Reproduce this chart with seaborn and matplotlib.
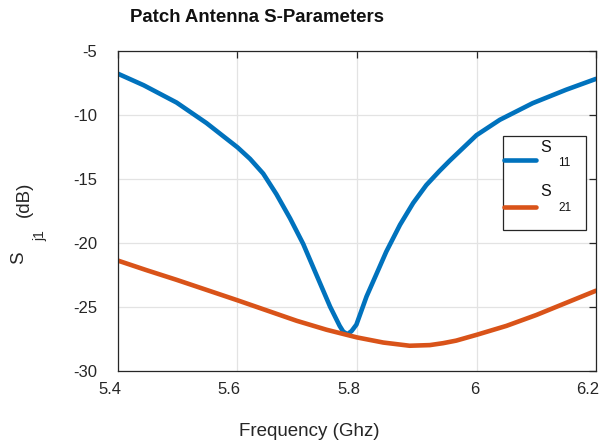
import matplotlib
matplotlib.use("Agg")
import matplotlib.pyplot as plt
import matplotlib.transforms as mtransforms
import seaborn as sns
import pandas as pd

# values
s11_freq = [5.400, 5.443, 5.498, 5.548, 5.600, 5.621, 5.643, 5.665, 5.688, 5.710,
            5.732, 5.755, 5.771, 5.777, 5.784, 5.791, 5.799, 5.816, 5.833, 5.849,
            5.872, 5.894, 5.916, 5.938, 5.955, 6.000, 6.039, 6.094, 6.150, 6.200]
s11_db = [-6.8, -7.7, -9.05, -10.65, -12.55, -13.45, -14.6, -16.2, -18.1, -20.1,
          -22.5, -25.0, -26.5, -26.95, -27.15, -26.9, -26.4, -24.2, -22.4, -20.7,
          -18.6, -16.9, -15.5, -14.4, -13.6, -11.6, -10.4, -9.1, -8.05, -7.2]

s21_freq = [5.400, 5.448, 5.498, 5.600, 5.699, 5.749, 5.800, 5.844, 5.888, 5.922,
            5.944, 5.966, 6.000, 6.050, 6.100, 6.150, 6.200]
s21_db = [-21.4, -22.15, -22.9, -24.5, -26.1, -26.8, -27.4, -27.8, -28.05, -28.0,
          -27.85, -27.65, -27.2, -26.5, -25.65, -24.7, -23.75]

series_names = ["S11", "S21"]
series_colors = ["#0072BD", "#D95319"]
x_ticks = [5.4, 5.6, 5.8, 6.0, 6.2]
x_ticklabels = ["5.4", "5.6", "5.8", "6", "6.2"]
y_ticks = [-30, -25, -20, -15, -10, -5]

df = pd.concat([
    pd.DataFrame({"freq": s11_freq, "db": s11_db, "param": series_names[0]}),
    pd.DataFrame({"freq": s21_freq, "db": s21_db, "param": series_names[1]}),
])

sns.set_theme(style="whitegrid")
plt.rcParams["font.family"] = ["Liberation Sans", "DejaVu Sans"]
plt.rcParams["axes.unicode_minus"] = False

W, H = 600, 443
fig = plt.figure(figsize=(6, 4.43), dpi=100)
ax = fig.add_axes([118 / W, 1 - 370.7 / H, 478 / W, 320 / H])


def fx(px):
    return px / W


def fy(py):
    return 1 - py / H


sns.lineplot(data=df, x="freq", y="db", hue="param", palette=series_colors,
             linewidth=3.3, legend=False, ax=ax, sort=True)

ax.set_xlim(5.4, 6.2)
ax.set_ylim(-30, -5)
ax.set_xticks(x_ticks)
ax.set_xticklabels(x_ticklabels)
ax.set_yticks(y_ticks)
ax.set_xlabel("")
ax.set_ylabel("")

ax.grid(True, color="#e3e3e3", linewidth=0.9)
for sp in ax.spines.values():
    sp.set_visible(True)
    sp.set_color("#262626")
    sp.set_linewidth(0.9)
ax.tick_params(direction="in", length=5, width=0.9, color="#262626",
               top=True, right=True, labelsize=12, labelcolor="#262626")
ax.tick_params(axis="x", pad=8)
ax.tick_params(axis="y", pad=15)

# text in the reference sits a little left of its ticks
dx = mtransforms.ScaledTranslation(0.03, 0, fig.dpi_scale_trans)
for lab in ax.get_xticklabels():
    lab.set_ha("right")
    lab.set_transform(lab.get_transform() + dx)

# legend box with the handles; labels drawn as S + subscript like the original
handles = ax.get_lines()[:2]
leg = ax.legend(handles, ["\n", "\n"], loc="upper left",
                bbox_to_anchor=(0.805, 0.733), borderaxespad=0,
                fontsize=16.2, borderpad=0.06, handlelength=1.4,
                handletextpad=2.19, labelspacing=0.05, frameon=True,
                fancybox=False, framealpha=1)
leg.get_frame().set_edgecolor("#262626")
leg.get_frame().set_linewidth(0.9)
for lh in leg.get_lines():
    lh.set_linewidth(3.3)

fig.text(fx(540), fy(147), "S", fontsize=11.5, va="center", ha="left", color="#111111")
fig.text(fx(558), fy(163), "11", fontsize=8.5, va="center", ha="left", color="#111111")
fig.text(fx(540), fy(191), "S", fontsize=11.5, va="center", ha="left", color="#111111")
fig.text(fx(558), fy(208), "21", fontsize=8.5, va="center", ha="left", color="#111111")

fig.text(fx(130), fy(17), "Patch Antenna S-Parameters", fontsize=13.4,
         fontweight="bold", ha="left", va="center", color="#111111")
fig.text(fx(309), fy(432), "Frequency (Ghz)", fontsize=13.5, ha="center",
         va="center", color="#262626")

fig.text(fx(19), fy(258), "S", fontsize=13.5, rotation=90, ha="center",
         va="center", color="#262626")
fig.text(fx(40), fy(236), "j1", fontsize=10, rotation=90, ha="center",
         va="center", color="#262626")
fig.text(fx(24), fy(199), "(dB)", fontsize=13.5, rotation=90, ha="center",
         va="center", color="#262626")

fig.savefig("out.png", dpi=100)
